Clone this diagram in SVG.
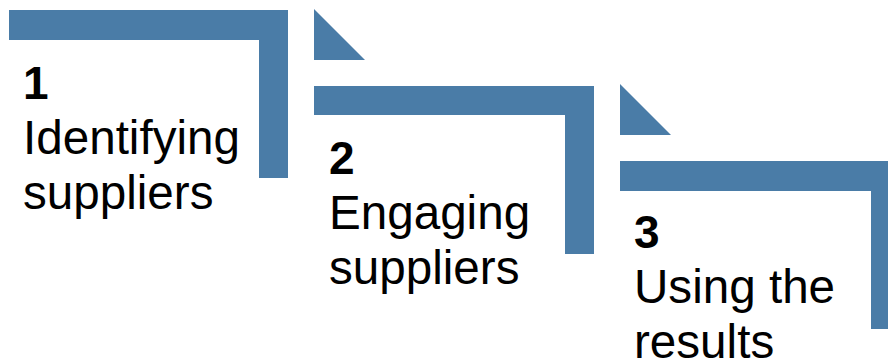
<svg xmlns="http://www.w3.org/2000/svg" width="888" height="362" viewBox="0 0 888 362">
<style>
.bar{fill:#4a7ca7}
.num{font-family:"Liberation Sans",Arial,sans-serif;font-size:46px;font-weight:bold;fill:#000}
.lbl{font-family:"Liberation Sans",Arial,sans-serif;font-size:47.6px;fill:#000}
</style>
<rect width="888" height="362" fill="#fff"/>
<g id="connectors">
<polygon class="bar" points="314,9 314,60 365,60"/>
<polygon class="bar" points="620,84 620,135 671,135"/>
</g>
<g id="step1">
<path class="bar" d="M9,10 H288 V178 H259 V40 H9 Z"/>
<text class="num" x="23" y="99">1</text>
<text class="lbl" x="23" y="154">Identifying</text>
<text class="lbl" x="23" y="209">suppliers</text>
</g>
<g id="step2">
<path class="bar" d="M314,86 H594 V254 H565 V115 H314 Z"/>
<text class="num" x="329" y="174">2</text>
<text class="lbl" x="329" y="229">Engaging</text>
<text class="lbl" x="329" y="284">suppliers</text>
</g>
<g id="step3">
<path class="bar" d="M620,161 H900 V329 H871 V191 H620 Z"/>
<text class="num" x="634" y="248">3</text>
<text class="lbl" x="634" y="303">Using the</text>
<text class="lbl" x="634" y="358">results</text>
</g>
</svg>
